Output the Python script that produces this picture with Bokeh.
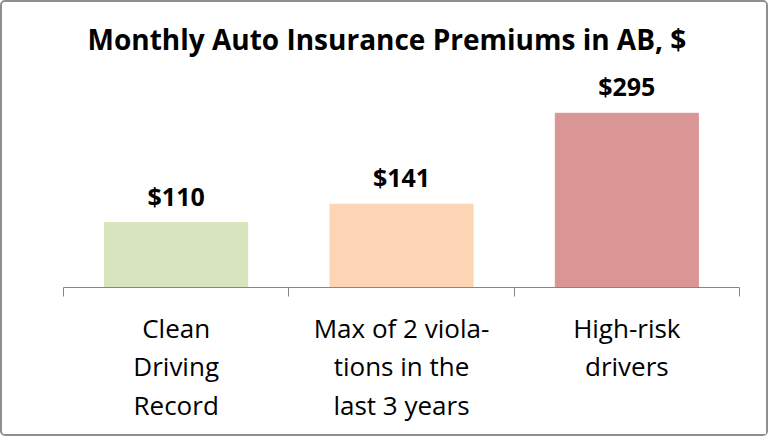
from bokeh.plotting import figure
from bokeh.models import FixedTicker, ColumnDataSource, LabelSet
from bokeh.core.properties import value
from bokeh.embed import file_html
from bokeh.resources import INLINE

# ---- data ----
categories = ["Clean\nDriving\nRecord",
              "Max of 2 viola-\ntions in the\nlast 3 years",
              "High-risk\ndrivers"]
premiums = [110, 141, 295]
value_labels = ["$110", "$141", "$295"]
bar_colors = ["#d7e4bd", "#fcd5b5", "#d99694"]
title_text = "Monthly Auto Insurance Premiums in AB, $"

positions = list(range(len(categories)))
boundaries = [i - 0.5 for i in range(len(categories) + 1)]

src = ColumnDataSource(dict(x=positions, top=premiums, label=value_labels, color=bar_colors))

p = figure(width=768, height=436,
           x_range=(boundaries[0], boundaries[-1]), y_range=(0, 381),
           output_backend="svg", toolbar_location=None,
           y_axis_location=None,
           min_border_left=61, min_border_right=31,
           min_border_top=60, min_border_bottom=151,
           title=title_text)

p.styles = {"border": "2px solid #8f8f8f", "border-radius": "5px", "box-sizing": "border-box"}

p.vbar(x="x", top="top", width=0.635, color="color", source=src)

labels = LabelSet(x="x", y="top", text="label", source=src, y_offset=17,
                  text_align="center", text_baseline="alphabetic",
                  text_font=value("Open Sans"), text_font_style="bold",
                  text_font_size=value("25px"), text_color="#000000")
p.add_layout(labels)

p.title.align = "left"
p.title.text_font = "Open Sans"
p.title.text_font_size = "28px"
p.title.text_font_style = "bold"
p.title.text_color = "#000000"
p.title.offset = 24

p.xgrid.visible = False
p.ygrid.visible = False
p.outline_line_color = None
p.background_fill_color = "white"
p.border_fill_color = "white"

ax = p.xaxis[0]
ax.ticker = FixedTicker(ticks=positions, minor_ticks=boundaries)
ax.major_label_overrides = {i: c for i, c in zip(positions, categories)}
ax.major_tick_out = 0
ax.major_tick_in = 0
ax.minor_tick_out = 9
ax.minor_tick_in = 0
ax.minor_tick_line_color = "#868686"
ax.axis_line_color = "#868686"
ax.axis_line_width = 1
ax.major_label_text_font = "Open Sans"
ax.major_label_text_font_size = "26px"
ax.major_label_text_line_height = 1.07
ax.major_label_text_color = "#000000"
ax.major_label_standoff = 13

open("out.html", "w").write(file_html(p, INLINE))
